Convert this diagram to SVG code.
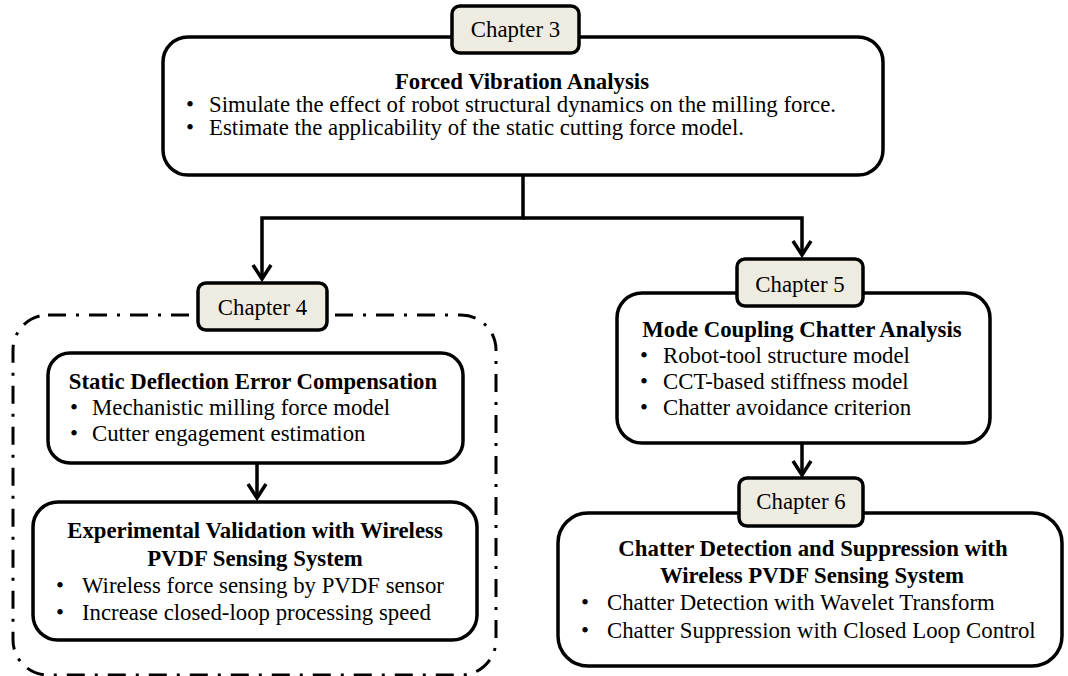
<svg xmlns="http://www.w3.org/2000/svg" width="1068" height="676" viewBox="0 0 1068 676">
<style>
.box{fill:#fff;stroke:#000;stroke-width:3.5}
.tag{fill:#EEECE1;stroke:#000;stroke-width:3.5}
.dash{fill:none;stroke:#000;stroke-width:3;stroke-dasharray:18 10 3 10}
.t{font-family:"Liberation Serif","Times New Roman",serif;font-size:22.8px;fill:#000}
.b{font-weight:bold}
.m{text-anchor:middle}
.conn{fill:none;stroke:#000;stroke-width:3.5;stroke-linejoin:miter}
</style>
<defs>
<marker id="arr" markerUnits="userSpaceOnUse" viewBox="-18 -12 22 24" refX="0" refY="0" markerWidth="22" markerHeight="24" orient="auto">
<path d="M-14,-9 L0,0 L-14,9" fill="none" stroke="#000" stroke-width="3.5"/>
</marker>
</defs>
<rect width="1068" height="676" fill="#fff"/>

<g id="connectors">
<path class="conn" d="M523,175 V218 H262 V279" marker-end="url(#arr)"/>
<path class="conn" d="M523,218 H802 V255" marker-end="url(#arr)"/>
<path class="conn" d="M257,463 V498" marker-end="url(#arr)"/>
<path class="conn" d="M802,443 V475" marker-end="url(#arr)"/>
</g>

<g id="ch4-group">
<rect class="dash" x="13" y="315" width="483" height="360" rx="35"/>
</g>

<g id="forced-vibration">
<rect class="box" x="163" y="37" width="720" height="138" rx="25"/>
<text class="t b m" x="522" y="89">Forced Vibration Analysis</text>
<text class="t" x="186" y="112">•</text>
<text class="t" x="209" y="112">Simulate the effect of robot structural dynamics on the milling force.</text>
<text class="t" x="186" y="135">•</text>
<text class="t" x="209" y="135">Estimate the applicability of the static cutting force model.</text>
</g>
<g id="chapter3">
<rect class="tag" x="452" y="6" width="127" height="47" rx="8"/>
<text class="t m" x="515.5" y="37">Chapter 3</text>
</g>

<g id="static-deflection">
<rect class="box" x="48" y="353" width="415" height="110" rx="22"/>
<text class="t b m" x="253" y="389">Static Deflection Error Compensation</text>
<text class="t" x="70" y="415">•</text>
<text class="t" x="92" y="415">Mechanistic milling force model</text>
<text class="t" x="70" y="441">•</text>
<text class="t" x="92" y="441">Cutter engagement estimation</text>
</g>

<g id="experimental-validation">
<rect class="box" x="33" y="502" width="444" height="138" rx="25"/>
<text class="t b m" x="255" y="538">Experimental Validation with Wireless</text>
<text class="t b m" x="255" y="566">PVDF Sensing System</text>
<text class="t" x="56" y="593">•</text>
<text class="t" x="82" y="593">Wireless force sensing by PVDF sensor</text>
<text class="t" x="56" y="620">•</text>
<text class="t" x="82" y="620">Increase closed-loop processing speed</text>
</g>
<g id="chapter4">
<rect class="tag" x="198" y="283" width="129" height="47" rx="8"/>
<text class="t m" x="262.5" y="315">Chapter 4</text>
</g>

<g id="mode-coupling">
<rect class="box" x="617" y="293" width="373" height="150" rx="25"/>
<text class="t b m" x="802" y="337">Mode Coupling Chatter Analysis</text>
<text class="t" x="640" y="363">•</text>
<text class="t" x="663" y="363">Robot-tool structure model</text>
<text class="t" x="640" y="389">•</text>
<text class="t" x="663" y="389">CCT-based stiffness model</text>
<text class="t" x="640" y="415">•</text>
<text class="t" x="663" y="415">Chatter avoidance criterion</text>
</g>
<g id="chapter5">
<rect class="tag" x="737" y="259" width="126" height="47" rx="8"/>
<text class="t m" x="800" y="292">Chapter 5</text>
</g>

<g id="chatter-detection">
<rect class="box" x="558" y="513" width="504" height="153" rx="30"/>
<text class="t b m" x="813" y="556">Chatter Detection and Suppression with</text>
<text class="t b m" x="812" y="583">Wireless PVDF Sensing System</text>
<text class="t" x="581" y="610">•</text>
<text class="t" x="607" y="610">Chatter Detection with Wavelet Transform</text>
<text class="t" x="581" y="638">•</text>
<text class="t" x="607" y="638">Chatter Suppression with Closed Loop Control</text>
</g>
<g id="chapter6">
<rect class="tag" x="739" y="478" width="124" height="48" rx="8"/>
<text class="t m" x="801" y="509">Chapter 6</text>
</g>
</svg>
